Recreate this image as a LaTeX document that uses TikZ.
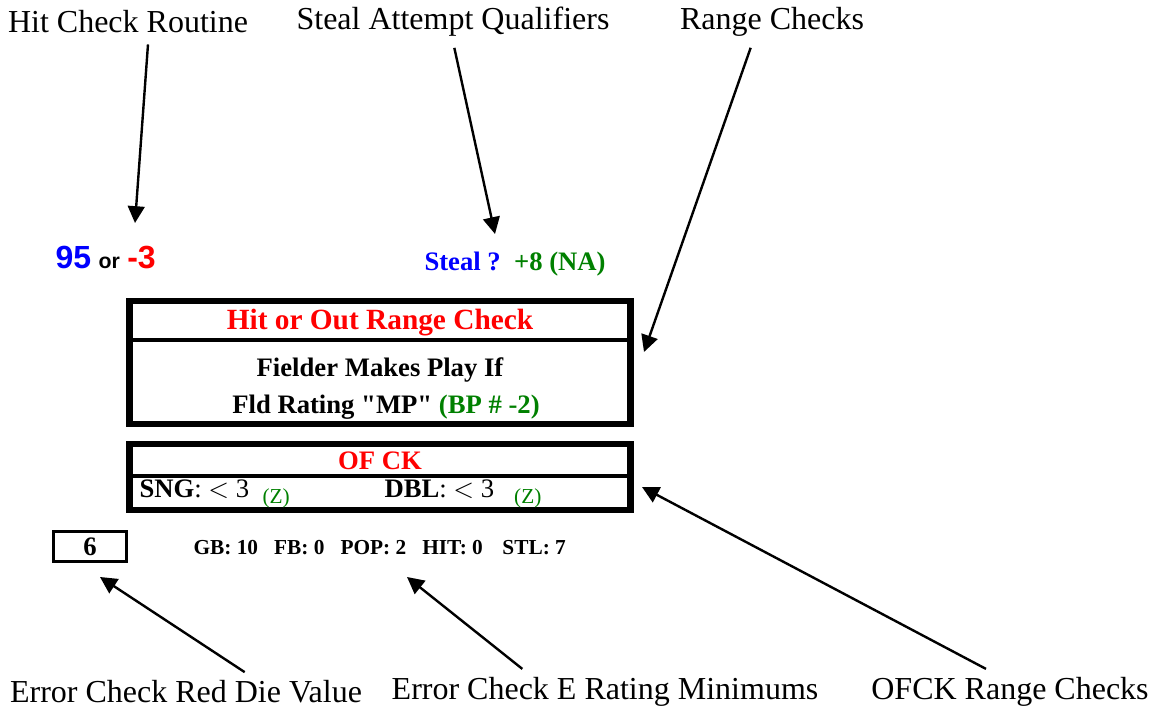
\documentclass[tikz,border=0pt]{standalone}
\usepackage{fontspec}
\setmainfont{Liberation Serif}[Ligatures=TeXOff]
\newfontfamily\arialfont{Liberation Sans}
\usetikzlibrary{positioning,arrows.meta,calc}
\definecolor{ckred}{RGB}{255,0,0}
\definecolor{ckblue}{RGB}{0,0,255}
\definecolor{ckgreen}{RGB}{0,128,0}

\begin{document}
\begin{tikzpicture}[
  x=0.375pt, y=-0.375pt, % pixel grid of the card
  >={Triangle[length=6.3pt,width=6.3pt]}, % arrow tip
  lbl/.style={font=\fontsize{12}{14}\selectfont, inner sep=0pt},
  arr/.style={->, line width=0.9pt},
  bigbox/.style={draw, line width=2.5pt, inner sep=0pt},
  bold/.style={font=\bfseries\fontsize{10}{12}\selectfont, inner sep=0pt}
]
\useasboundingbox (0,0) rectangle (1156,712);

% top labels
\node (hitlbl) [lbl] at (128,22) {Hit Check Routine};
\node (steallbl) [lbl] at (453,22) {Steal Attempt Qualifiers};
\node (rangelbl) [lbl] at (772,22) {Range Checks};

% card values
\node (hitval) [anchor=west, inner sep=0pt] at (55,258)
  {\arialfont\bfseries{\fontsize{12}{14}\selectfont\color{ckblue}95} {\fontsize{8}{10}\selectfont or} {\fontsize{12}{14}\selectfont\color{ckred}-3}};
\node (stealval) [anchor=west, inner sep=0pt, font=\bfseries\fontsize{10}{12}\selectfont] at (424,264)
  {\color{ckblue}Steal ?\ \ \color{ckgreen}+8 (NA)};

% hit or out box
\node (hitbox) [bigbox, minimum width=188pt, minimum height=46pt] at (380,362.5) {};
\draw[line width=1.2pt] (hitbox.west |- 0,340) -- (hitbox.east |- 0,340);
\node (hithead) [bold, text=ckred, font=\bfseries\fontsize{11}{13}\selectfont] at (380,323) {Hit or Out Range Check};
\node (fielder) [bold] at (380,370) {Fielder Makes Play If};
\node (fldrating) [bold] at (386,407) {Fld Rating "MP" {\color{ckgreen}(BP \# -2)}};

% OF CK box
\node (ofbox) [bigbox, minimum width=188pt, minimum height=24.75pt] at (380,477) {};
\draw[line width=1.2pt] (ofbox.west |- 0,476) -- (ofbox.east |- 0,476);
\node (ofhead) [bold, text=ckred] at (380,461) {OF CK};
\node (sng) [anchor=west, inner sep=0pt, font=\fontsize{10}{12}\selectfont] at (139,494)
  {\textbf{SNG}: $<$ 3\ \ {\fontsize{8}{10}\selectfont\raisebox{-2pt}{\color{ckgreen}(Z)}}};
\node (dbl) [anchor=west, inner sep=0pt, font=\fontsize{10}{12}\selectfont] at (384,494)
  {\textbf{DBL}: $<$ 3\ \ \ {\fontsize{8}{10}\selectfont\raisebox{-2pt}{\color{ckgreen}(Z)}}};

% error check row
\node (diebox) [draw, line width=1.1pt, minimum width=27.4pt, minimum height=11.3pt, bold] at (90,546.5) {6};
\node (erating) [anchor=west, inner sep=0pt, font=\bfseries\fontsize{8}{10}\selectfont] at (193,548)
  {GB: 10\ \ \ FB: 0\ \ \ POP: 2\ \ \ HIT: 0\ \ \ \,STL: 7};

% bottom labels
\node (dielbl) [lbl] at (186,692) {Error Check Red Die Value};
\node (minlbl) [lbl] at (605,692) {Error Check E Rating Minimums};
\node (ofcklbl) [lbl] at (1010,692) {OFCK Range Checks};

% arrow tips
\coordinate (hittip) at (135,223);
\coordinate (stealtip) at (495,234);
\coordinate (rangetip) at (644,352);
\coordinate (dietip) at (100,577);
\coordinate (mintip) at (407,577);
\coordinate (ofcktip) at (642,487);

% arrows
\draw[arr] ([xshift=7.5pt,yshift=-4pt]hitlbl.south) -- (hittip);
\draw[arr] ([xshift=0.5pt,yshift=-4pt]steallbl.south) -- (stealtip);
\draw[arr] ([xshift=-8pt,yshift=-4pt]rangelbl.south) -- (rangetip);
\draw[arr] ([xshift=22pt,yshift=3pt]dielbl.north) -- (dietip);
\draw[arr] ([xshift=-31pt,yshift=3pt]minlbl.north) -- (mintip);
\draw[arr] ([xshift=-9pt,yshift=3pt]ofcklbl.north) -- (ofcktip);
\end{tikzpicture}
\end{document}
